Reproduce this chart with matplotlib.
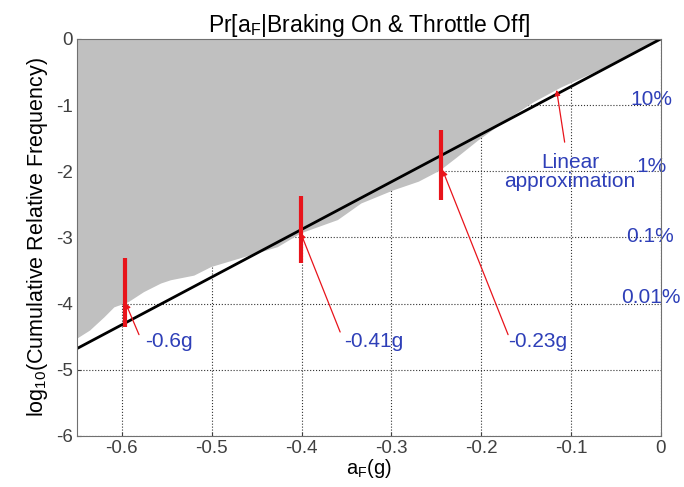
import matplotlib
matplotlib.use('Agg')
import matplotlib.pyplot as plt

plt.rcParams['font.family'] = ['Liberation Sans', 'DejaVu Sans']
plt.rcParams['mathtext.fontset'] = 'custom'
plt.rcParams['mathtext.rm'] = 'Liberation Sans'
plt.rcParams['mathtext.it'] = 'Liberation Sans:italic'

# empirical log10 cumulative frequency (lower edge of the gray area)
curve_x = [-0.65, -0.636, -0.62, -0.609, -0.593, -0.576, -0.557, -0.546, -0.52, -0.501,
           -0.464, -0.427, -0.401, -0.36, -0.334, -0.298, -0.27, -0.246, -0.227, -0.204,
           -0.168, -0.142, -0.112, -0.076, -0.038, -0.009, 0.0]
curve_y = [-4.52, -4.40, -4.20, -4.05, -3.97, -3.82, -3.69, -3.64, -3.57, -3.44,
           -3.29, -3.14, -2.93, -2.73, -2.48, -2.28, -2.15, -1.98, -1.78, -1.53,
           -1.18, -0.95, -0.73, -0.51, -0.27, -0.06, 0.0]

# linear approximation
line_x = [-0.65, 0.0]
line_y = [-4.68, 0.0]

# red marker bars
bar_x = [-0.597, -0.401, -0.245]
bar_lo = [-4.35, -3.39, -2.43]
bar_hi = [-3.31, -2.37, -1.38]

# annotations: label, text position, arrow tail and head
ann_labels = ['-0.6g', '-0.41g', '-0.23g']
ann_text_x = [-0.574, -0.353, -0.170]
ann_text_y = [-4.65, -4.65, -4.65]
ann_tail_x = [-0.581, -0.357, -0.170]
ann_tail_y = [-4.47, -4.43, -4.47]
ann_head_x = [-0.596, -0.401, -0.243]
ann_head_y = [-3.99, -2.93, -1.98]

pct_labels = ['10%', '1%', '0.1%', '0.01%']
pct_x = [-0.010, -0.010, -0.012, -0.011]
pct_y = [-1.00, -2.01, -3.07, -3.99]

blue = '#2E3FB8'
red = '#E8141B'

fig = plt.figure(figsize=(6.84, 4.87), dpi=100)
ax = fig.add_axes([0.1126, 0.105, 0.8534, 0.815])

ax.fill_between(curve_x, curve_y, 0, color='#C0C0C0', linewidth=0, zorder=3)
ax.plot(line_x, line_y, color='black', linewidth=2, zorder=4)
ax.vlines(bar_x, bar_lo, bar_hi, color=red, linewidth=3, zorder=5)

for lab, tx, ty, sx, sy, hx, hy in zip(ann_labels, ann_text_x, ann_text_y,
                                      ann_tail_x, ann_tail_y, ann_head_x, ann_head_y):
    ax.annotate('', xy=(hx, hy), xytext=(sx, sy),
                arrowprops=dict(arrowstyle='-|>', color=red, lw=0.9,
                                mutation_scale=8, shrinkA=0, shrinkB=0), zorder=6)
    ax.text(tx, ty, lab, color=blue, fontsize=15, ha='left', va='baseline', zorder=6)

ax.annotate('', xy=(-0.116, -0.77), xytext=(-0.107, -1.56),
            arrowprops=dict(arrowstyle='-|>', color=red, lw=0.9,
                            mutation_scale=8, shrinkA=0, shrinkB=0), zorder=6)
ax.text(-0.101, -2.01, 'Linear\napproximation', color=blue, fontsize=15,
        ha='center', va='center', linespacing=1.05, zorder=6)

for lab, px, py in zip(pct_labels, pct_x, pct_y):
    ax.text(px, py, lab, color=blue, fontsize=15, ha='center', va='baseline',
            clip_on=False, zorder=6)

ax.set_xlim(-0.65, 0)
ax.set_ylim(-6, 0)
ax.set_xticks([-0.6, -0.5, -0.4, -0.3, -0.2, -0.1, 0])
ax.set_xticklabels(['-0.6', '-0.5', '-0.4', '-0.3', '-0.2', '-0.1', '0'])
ax.set_yticks([-6, -5, -4, -3, -2, -1, 0])
ax.set_yticklabels(['-6', '-5', '-4', '-3', '-2', '-1', '0'])
ax.grid(True, linestyle=':', color='#333333', linewidth=0.8, zorder=2)
ax.set_axisbelow(True)
ax.tick_params(direction='in', length=3, labelsize=13.5, colors='#404040', pad=3)
for s in ax.spines.values():
    s.set_color('#707070')
    s.set_zorder(7)

ax.set_title('Pr[a$_\\mathrm{F}$|Braking On & Throttle Off]', fontsize=16.5, pad=4)
ax.set_xlabel('a$_\\mathrm{F}$(g)', fontsize=14.5, labelpad=0)
ax.set_ylabel('log$_{10}$(Cumulative Relative Frequency)', fontsize=15.5, labelpad=4)

fig.savefig('out.png', dpi=100)
